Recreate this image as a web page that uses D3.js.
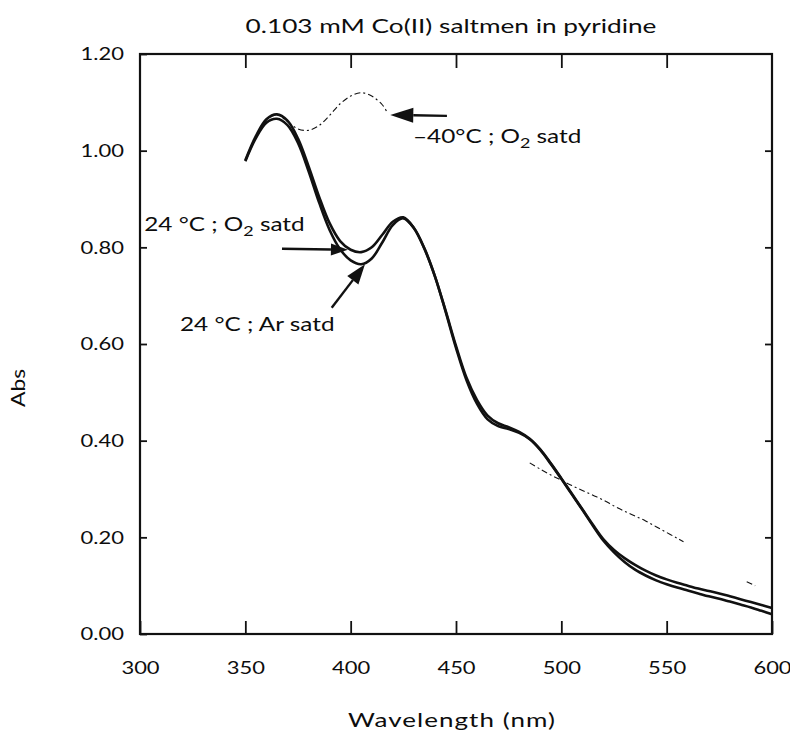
<!DOCTYPE html>
<html>
<head>
<meta charset="utf-8">
<script src="https://cdn.jsdelivr.net/npm/d3@7"></script>
<style>
  body { margin: 0; background: #fff; }
  svg text { font-family: Lato, "Open Sans", sans-serif; fill: #0d0d0d; }
</style>
</head>
<body>
<svg id="chart" width="790" height="734"></svg>
<script>
// Absorbance spectra, 0.103 mM Co(II) saltmen in pyridine
const wavelengths = [350,355,360,365,370,375,380,385,390,395,400,405,410,415,420,425,430,435,440,445,450,
  455,460,465,470,475,480,485,490,495,500,505,510,515,520,525,530,535,540,545,550,555,560,565,570,575,580,585,590,595,600];

// 24 °C, O2 saturated
const absO2Warm = [0.980,1.030,1.065,1.075,1.062,1.025,0.968,0.905,0.850,0.813,0.795,0.790,0.800,0.826,0.853,0.862,0.840,0.797,0.740,0.670,0.596,
  0.530,0.484,0.452,0.436,0.428,0.418,0.404,0.382,0.353,0.322,0.290,0.258,0.226,0.196,0.174,0.157,0.143,0.131,0.121,0.113,0.106,0.100,0.094,0.089,0.084,0.078,0.072,0.066,0.060,0.054];

// 24 °C, Ar saturated
const absArWarm = [0.978,1.026,1.058,1.066,1.053,1.016,0.958,0.893,0.836,0.796,0.773,0.765,0.777,0.810,0.846,0.860,0.840,0.798,0.740,0.668,0.592,
  0.525,0.476,0.444,0.430,0.424,0.416,0.403,0.381,0.352,0.321,0.289,0.257,0.224,0.193,0.169,0.149,0.133,0.121,0.111,0.103,0.096,0.090,0.084,0.078,0.073,0.067,0.061,0.055,0.048,0.041];

// -40 °C, O2 saturated (faint trace; null = no visible trace)
const coldWavelengths = [350,355,360,365,370,375,380,385,390,395,400,405,410,415,417,450,
  485,490,495,500,505,510,515,520,525,530,535,540,545,550,555,558,575,588,592];
const absO2Cold = [0.980,1.030,1.065,1.075,1.060,1.045,1.042,1.052,1.073,1.097,1.113,1.120,1.113,1.095,1.082,null,
  0.354,0.341,0.329,0.318,0.307,0.297,0.287,0.277,0.265,0.254,0.244,0.234,0.222,0.210,0.198,0.191,null,0.108,0.100];

const xTickValues = [300,350,400,450,500,550,600];
const yTickValues = [0,0.2,0.4,0.6,0.8,1.0,1.2];

const svg = d3.select("#chart");
const margin = { left: 140, right: 18, top: 54, bottom: 100 };
const W = 790, H = 734;

const x = d3.scaleLinear().domain([300, 600]).range([margin.left, W - margin.right]);
const y = d3.scaleLinear().domain([0, 1.2]).range([H - margin.bottom, margin.top]);

// Horizontally widen text glyphs by factor k
function widen(sel, k) {
  sel.each(function () {
    const len = this.getComputedTextLength();
    d3.select(this).attr("textLength", len * k).attr("lengthAdjust", "spacingAndGlyphs");
  });
  return sel;
}

svg.append("rect").attr("width", W).attr("height", H).attr("fill", "#fff");

// Title
widen(svg.append("text")
  .attr("x", 451).attr("y", 33)
  .attr("text-anchor", "middle")
  .style("font-size", "20px")
  .text("0.103 mM Co(II) saltmen in pyridine"), 1.31);

// Axes with inward ticks
const fmt = d3.format(".2f");
const axisB = svg.append("g").attr("transform", `translate(0,${y(0)})`)
  .call(d3.axisBottom(x).tickValues(xTickValues).tickSize(-13).tickSizeOuter(0).tickPadding(27).tickFormat(d3.format("d")));
const axisT = svg.append("g").attr("transform", `translate(0,${y(1.2)})`)
  .call(d3.axisTop(x).tickValues(xTickValues.slice(1, -1)).tickSize(-14).tickSizeOuter(0).tickFormat(""));
const axisL = svg.append("g").attr("transform", `translate(${x(300)},0)`)
  .call(d3.axisLeft(y).tickValues(yTickValues).tickSize(-7).tickSizeOuter(0).tickPadding(16).tickFormat(fmt));
const axisR = svg.append("g").attr("transform", `translate(${x(600)},0)`)
  .call(d3.axisRight(y).tickValues(yTickValues.slice(1, -1)).tickSize(-7).tickSizeOuter(0).tickFormat(""));

[axisB, axisT, axisL, axisR].forEach(g => {
  g.select(".domain").remove();
  g.selectAll(".tick line").attr("stroke", "#111").attr("stroke-width", 1.8);
  widen(g.selectAll(".tick text").style("font-size", "18px").attr("fill", "#0d0d0d"), 1.22);
});

// Frame
svg.append("rect")
  .attr("x", x(300)).attr("y", y(1.2))
  .attr("width", x(600) - x(300)).attr("height", y(0) - y(1.2))
  .attr("fill", "none").attr("stroke", "#111").attr("stroke-width", 2.2);

// Axis titles
widen(svg.append("text")
  .attr("x", 452).attr("y", 727)
  .attr("text-anchor", "middle")
  .style("font-size", "20px")
  .style("letter-spacing", "0.8px")
  .text("Wavelength (nm)"), 1.3);

widen(svg.append("text")
  .attr("transform", "translate(25,388) rotate(-90)")
  .attr("text-anchor", "middle")
  .style("font-size", "19px")
  .text("Abs"), 1.2);

// Spectra
const line = d3.line()
  .defined(d => d[1] != null)
  .x(d => x(d[0]))
  .y(d => y(d[1]))
  .curve(d3.curveCatmullRom.alpha(0.5));

const cold = coldWavelengths.map((w, i) => [w, absO2Cold[i]]);
svg.append("path")
  .attr("d", line(cold))
  .attr("fill", "none").attr("stroke", "#111")
  .attr("stroke-width", 1.1)
  .attr("stroke-dasharray", "6,3,2,3");

[absArWarm, absO2Warm].forEach(vals => {
  svg.append("path")
    .attr("d", line(wavelengths.map((w, i) => [w, vals[i]])))
    .attr("fill", "none").attr("stroke", "#111")
    .attr("stroke-width", 2.6)
    .attr("stroke-linejoin", "round");
});

// Annotation arrows (tail and tip in data units)
function arrow(from, to, headLen, headW) {
  const x0 = x(from[0]), y0 = y(from[1]), x1 = x(to[0]), y1 = y(to[1]);
  const a = Math.atan2(y1 - y0, x1 - x0);
  const bx = x1 - headLen * Math.cos(a), by = y1 - headLen * Math.sin(a);
  svg.append("line")
    .attr("x1", x0).attr("y1", y0).attr("x2", bx).attr("y2", by)
    .attr("stroke", "#111").attr("stroke-width", 2.4);
  const px = -Math.sin(a) * headW / 2, py = Math.cos(a) * headW / 2;
  svg.append("polygon")
    .attr("points", [[x1, y1], [bx + px, by + py], [bx - px, by - py]].map(p => p.join(",")).join(" "))
    .attr("fill", "#111");
}

arrow([445.7, 1.072], [418.8, 1.074], 23, 15);
arrow([367.4, 0.797], [398.7, 0.795], 17, 12);
arrow([391.0, 0.675], [406.8, 0.765], 20, 14);

function label(w, a, before, after) {
  const t = svg.append("text")
    .attr("x", x(w)).attr("y", y(a))
    .style("font-size", "19px");
  t.append("tspan").text(before);
  t.append("tspan").attr("dy", 5).style("font-size", "14px").text("2");
  t.append("tspan").attr("dy", -5).text(after);
  widen(t, 1.28);
}

label(429.6, 1.016, "\u201340\u00B0C ; O", " satd");
label(302.0, 0.834, "24 \u00B0C ; O", " satd");

widen(svg.append("text")
  .attr("x", x(319)).attr("y", y(0.627))
  .style("font-size", "19px")
  .text("24 \u00B0C ; Ar satd"), 1.28);
</script>
</body>
</html>
